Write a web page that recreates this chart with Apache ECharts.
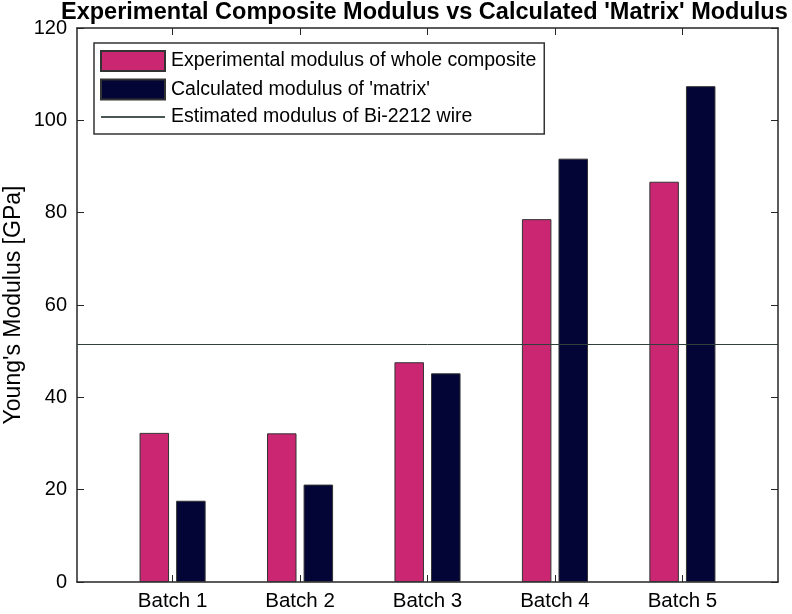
<!DOCTYPE html>
<html>
<head>
<meta charset="UTF-8" />
<script src="https://cdn.jsdelivr.net/npm/echarts@6.0.0/dist/echarts.min.js"></script>
<style>
  html, body, #main { margin: 0; padding: 0; width: 792px; height: 614px; background: #fff; }
</style>
</head>
<body>
<div id="main"></div>
<script>
  // batches sit at x = 1..5, axis runs 0.25..5.75 like the original figure
  const batchPos = [1, 2, 3, 4, 5];
  const batchNames = ['Batch 1', 'Batch 2', 'Batch 3', 'Batch 4', 'Batch 5'];
  const experimental = [32.3, 32.2, 47.6, 78.6, 86.7];
  const matrix = [17.6, 21.1, 45.2, 91.7, 107.4];
  const wireModulus = 51.4;
  const yTicks = [0, 20, 40, 60, 80, 100, 120];

  const font = "'Liberation Sans', Arial, sans-serif";
  const axisColor = '#262626';

  const chart = echarts.init(document.getElementById('main'));

  const xCommon = {
    type: 'value',
    min: 0.25,
    max: 5.75,
    splitLine: { show: false },
    axisLine: { show: true, onZero: false, lineStyle: { color: axisColor, width: 1.5 } },
    axisTick: { show: true, inside: true, length: 7, customValues: batchPos, lineStyle: { color: axisColor } }
  };
  const yCommon = {
    type: 'value',
    min: 0,
    max: 120,
    interval: 20,
    splitLine: { show: false },
    axisLine: { show: true, lineStyle: { color: axisColor, width: 1.5 } },
    axisTick: { show: true, inside: true, length: 7, lineStyle: { color: axisColor } }
  };

  const option = {
    animation: false,
    backgroundColor: '#fff',
    title: {
      text: "Experimental Composite Modulus vs Calculated 'Matrix' Modulus",
      left: 61,
      top: 1,
      padding: 0,
      textStyle: { fontFamily: font, fontWeight: 'bold', fontSize: 23.5, color: '#000' }
    },
    legend: {
      orient: 'vertical',
      left: 94,
      top: 43,
      padding: [7, 8, 7, 6],
      itemWidth: 64,
      itemHeight: 20,
      itemGap: 6.5,
      borderColor: '#333',
      borderWidth: 1.5,
      textStyle: { fontFamily: font, fontSize: 19.5, color: '#000', padding: [0, 0, 0, 1] },
      data: [
        { name: 'Experimental modulus of whole composite', icon: 'rect' },
        { name: "Calculated modulus of 'matrix'", icon: 'rect' },
        { name: 'Estimated modulus of Bi-2212 wire', itemStyle: { opacity: 0 } }
      ]
    },
    grid: { left: 77, right: 14, top: 28, bottom: 32, outerBoundsMode: 'none' },
    xAxis: [
      Object.assign({}, xCommon, {
        position: 'bottom',
        axisLabel: {
          customValues: batchPos,
          formatter: v => batchNames[batchPos.indexOf(Math.round(v))] || '',
          fontFamily: font, fontSize: 20.5, color: '#000', margin: 9
        }
      }),
      Object.assign({}, xCommon, { position: 'top', axisLabel: { show: false } })
    ],
    yAxis: [
      Object.assign({}, yCommon, {
        position: 'left',
        name: "Young's Modulus [GPa]",
        nameLocation: 'middle',
        nameMoveOverlap: false,
        nameGap: 52,
        nameTextStyle: { fontFamily: font, fontSize: 23, color: '#000' },
        axisLabel: {
          fontFamily: font, fontSize: 20, color: '#000', margin: 10,
          formatter: v => yTicks.includes(v) ? String(v) : ''
        }
      }),
      Object.assign({}, yCommon, { position: 'right', axisLabel: { show: false } })
    ],
    series: [
      {
        name: 'Experimental modulus of whole composite',
        type: 'bar',
        data: batchPos.map((x, i) => [x, experimental[i]]),
        barWidth: 29.5,
        barGap: '24%',
        itemStyle: { color: '#CB2672', borderColor: '#333', borderWidth: 1 }
      },
      {
        name: "Calculated modulus of 'matrix'",
        type: 'bar',
        data: batchPos.map((x, i) => [x, matrix[i]]),
        barWidth: 29.5,
        barGap: '24%',
        itemStyle: { color: '#020535', borderColor: '#333', borderWidth: 1 }
      },
      {
        name: 'Estimated modulus of Bi-2212 wire',
        type: 'line',
        data: [],
        symbol: 'none',
        lineStyle: { color: '#4a5756', width: 1 },
        itemStyle: { color: '#4a5756' },
        markLine: {
          silent: true,
          symbol: 'none',
          label: { show: false },
          lineStyle: { color: '#2f3f3c', width: 1, type: 'solid' },
          data: [{ yAxis: wireModulus }]
        }
      }
    ]
  };

  chart.setOption(option);
</script>
</body>
</html>
